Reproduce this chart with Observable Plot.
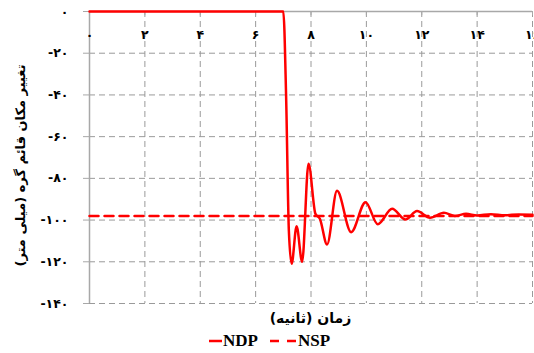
<!DOCTYPE html>
<html>
<head>
<meta charset="utf-8">
<script src="https://cdn.jsdelivr.net/npm/d3@7"></script>
<script src="https://cdn.jsdelivr.net/npm/@observablehq/plot@0.6"></script>
<style>
  html, body { margin: 0; padding: 0; background: #fff; }
  #chart { width: 534px; }
  #chart > svg { overflow: visible; }
  .xlabel { width: 443px; margin-left: 89px; text-align: center; direction: rtl;
    font-family: "DejaVu Sans", sans-serif; font-weight: bold; font-size: 14px; line-height: 20px; height: 20px; color: #000; }
  .legend { display: flex; justify-content: center; align-items: center; gap: 12px;
    font-family: "Liberation Serif", serif; font-weight: bold; font-size: 17px; color: #000; height: 25px; margin-left: 5px; }
  .legend span { display: inline-flex; align-items: center; }
  .legend svg { margin-right: 1px; }
</style>
</head>
<body>
<div id="chart"></div>
<script>
// ---- data ----
const xTicks = [0, 2, 4, 6, 8, 10, 12, 14, 16];
const yTicks = [0, -20, -40, -60, -80, -100, -120, -140];
const ndpTime  = [0, 7.0, 7.1, 7.2, 7.3, 7.48, 7.68, 7.91, 8.16, 8.32, 8.58, 8.94, 9.45, 9.97, 10.41, 10.93, 11.41, 11.83, 12.3, 12.8, 13.2, 13.6, 14.0, 14.5, 15.0, 15.5, 16.0];
const ndpValue = [0, 0, -40, -105, -121, -103, -120, -73, -97, -99.4, -111.7, -86, -105.8, -91.4, -102, -94.6, -99.7, -95.7, -98.9, -96.5, -98, -97, -97.8, -97.2, -97.7, -97.3, -97.4];
const nspTime  = [0, 16];
const nspValue = [-98, -98];
const seriesNames = ["NDP", "NSP"];
const xLabel = "زمان (ثانیه)";
const yLabel = "تغییر مکان قائم گره (میلی متر)";

const faDigits = "۰۱۲۳۴۵۶۷۸۹";
const fa = n => (n < 0 ? "-" : "") + String(Math.abs(n)).replace(/\d/g, d => faDigits[+d]);

const ndp = ndpTime.map((t, i) => ({t, v: ndpValue[i]}));
const nsp = nspTime.map((t, i) => ({t, v: nspValue[i]}));

const grid = {stroke: "#9a9a9a", strokeOpacity: 1, strokeDasharray: "6,4", strokeWidth: 1};

const chart = Plot.plot({
  width: 534,
  height: 308,
  marginLeft: 89,
  marginRight: 2,
  marginTop: 11,
  marginBottom: 5,
  style: {fontFamily: "DejaVu Sans", fontSize: "12.5px", background: "#fff", color: "#000", overflow: "visible"},
  x: {domain: [0, 16], axis: null},
  y: {domain: [-140, 0]},
  marks: [
    Plot.gridX(xTicks, grid),
    Plot.gridY(yTicks, grid),
    Plot.ruleY([0], {stroke: "#a8a8a8", strokeWidth: 1.5}),
    Plot.ruleX([0], {stroke: "#a8a8a8", strokeWidth: 1.5}),
    Plot.ruleX(xTicks, {x: d => d, y1: 0, y2: -2, stroke: "#a8a8a8"}),
    Plot.axisY(yTicks, {tickSize: 6, tickPadding: 15, tickFormat: fa, stroke: "#a8a8a8", fontWeight: "bold", label: null}),
    Plot.text(xTicks, {x: d => d, y: 0, dy: 23, text: fa, fontWeight: "bold"}),
    Plot.line(nsp, {x: "t", y: "v", stroke: "#ff0000", strokeWidth: 2.5, strokeDasharray: "9,6"}),
    Plot.line(ndp, {x: "t", y: "v", stroke: "#ff0000", strokeWidth: 2.5, curve: "monotone-x"}),
    Plot.text([yLabel], {frameAnchor: "left", dx: -69, dy: 8, rotate: -90, textAnchor: "middle", lineAnchor: "middle", fontWeight: "bold", fontSize: 13})
  ]
});
document.getElementById("chart").appendChild(chart);

const xl = document.createElement("div");
xl.className = "xlabel";
xl.textContent = xLabel;
document.getElementById("chart").appendChild(xl);

const legend = document.createElement("div");
legend.className = "legend";
legend.innerHTML =
  `<span><svg width="13" height="6"><line x1="0" y1="3" x2="13" y2="3" stroke="#ff0000" stroke-width="2.5"/></svg>${seriesNames[0]}</span>` +
  `<span><svg width="27" height="6"><line x1="0" y1="3" x2="27" y2="3" stroke="#ff0000" stroke-width="2.5" stroke-dasharray="9,8"/></svg>${seriesNames[1]}</span>`;
document.getElementById("chart").appendChild(legend);
</script>
</body>
</html>
